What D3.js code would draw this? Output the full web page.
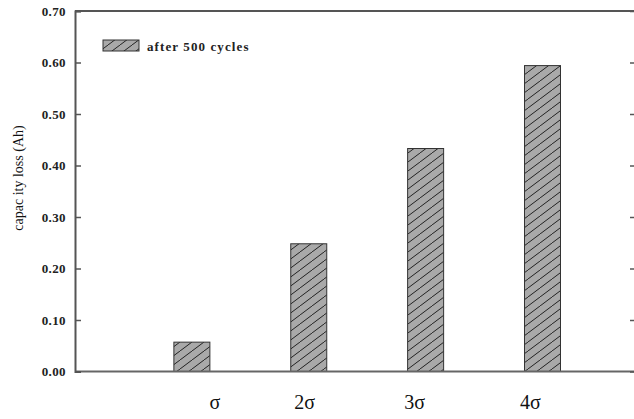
<!DOCTYPE html>
<html>
<head>
<meta charset="utf-8">
<script src="https://cdn.jsdelivr.net/npm/d3@7"></script>
<style>
  html, body { margin: 0; padding: 0; background: #fff; }
  svg { display: block; }
</style>
</head>
<body>
<svg id="chart" width="634" height="419"></svg>
<script>
const categories = ["σ", "2σ", "3σ", "4σ"];
const positions = [1, 2, 3, 4];
const values = [0.057, 0.248, 0.433, 0.594];
const yTicks = [0.00, 0.10, 0.20, 0.30, 0.40, 0.50, 0.60, 0.70];
const seriesName = "after 500 cycles";
const yTitle = "capac ity loss (Ah)";

(function () {
const svg = d3.select("#chart");
const mLeft = 75, mRight = 636, mTop = 11, mBottom = 371.5;

const x = d3.scaleLinear().domain([0, 4.8]).range([mLeft, mRight]);
const y = d3.scaleLinear().domain([0, 0.7]).range([mBottom, mTop]);

// hatch pattern
const defs = svg.append("defs");
const pat = defs.append("pattern")
  .attr("id", "hatch")
  .attr("patternUnits", "userSpaceOnUse")
  .attr("width", 12).attr("height", 9);
pat.append("rect").attr("width", 12).attr("height", 9).attr("fill", "#a9a9a9");
pat.append("path")
  .attr("d", "M-12,9 L0,0 M0,9 L12,0 M12,9 L24,0")
  .attr("stroke", "#222").attr("stroke-width", 1);

const barW = 36;
svg.append("g").selectAll("rect")
  .data(values)
  .join("rect")
  .attr("x", (d, i) => x(positions[i]) - barW / 2)
  .attr("width", barW)
  .attr("y", d => y(d))
  .attr("height", d => y(0) - y(d))
  .attr("fill", "url(#hatch)")
  .attr("stroke", "#333")
  .attr("stroke-width", 1);

const axisColor = "#555";
svg.append("line").attr("x1", mLeft).attr("x2", mRight).attr("y1", mTop).attr("y2", mTop)
  .attr("stroke", axisColor).attr("stroke-width", 2);
svg.append("line").attr("x1", mLeft).attr("x2", mRight).attr("y1", mBottom).attr("y2", mBottom)
  .attr("stroke", "#666").attr("stroke-width", 2.2);

const yAxis = d3.axisLeft(y).tickValues(yTicks).tickFormat(d3.format(".2f"))
  .tickSize(-6).tickPadding(9);
const gy = svg.append("g").attr("transform", `translate(${mLeft},0)`).call(yAxis);
gy.select(".domain").attr("stroke", axisColor).attr("stroke-width", 2);
gy.selectAll(".tick line").attr("stroke", axisColor).attr("stroke-width", 1.5);
gy.selectAll(".tick text")
  .attr("font-family", "'Liberation Serif', 'Times New Roman', serif")
  .attr("font-weight", "bold").attr("font-size", 13)
  .attr("letter-spacing", 0.4).attr("fill", "#222");

const yAxisR = d3.axisRight(y).tickValues(yTicks).tickFormat("").tickSize(-6);
const gr = svg.append("g").attr("transform", `translate(${mRight},0)`).call(yAxisR);
gr.select(".domain").remove();
gr.selectAll(".tick line").attr("stroke", axisColor).attr("stroke-width", 1.5);

const labelNudge = [23, -4, -11, -12];
svg.append("g").selectAll("text")
  .data(categories)
  .join("text")
  .attr("x", (d, i) => x(positions[i]) + labelNudge[i])
  .attr("y", 409)
  .attr("text-anchor", "middle")
  .attr("font-family", "'Liberation Serif', 'Times New Roman', serif")
  .attr("font-size", 20)
  .attr("fill", "#111")
  .text(d => d);

svg.append("text")
  .attr("transform", "translate(23,178) rotate(-90)")
  .attr("text-anchor", "middle")
  .attr("font-family", "'Liberation Serif', 'Times New Roman', serif")
  .attr("font-size", 14)
  .attr("fill", "#111")
  .text(yTitle);

svg.append("rect").attr("x", 103).attr("y", 40).attr("width", 36).attr("height", 11)
  .attr("fill", "url(#hatch)").attr("stroke", "#333").attr("stroke-width", 1);
svg.append("text").attr("x", 147).attr("y", 50.5)
  .attr("font-family", "'Liberation Serif', 'Times New Roman', serif")
  .attr("font-weight", "bold").attr("font-size", 13)
  .attr("letter-spacing", 1.1).attr("fill", "#222")
  .text(seriesName);
})();
</script>
</body>
</html>
